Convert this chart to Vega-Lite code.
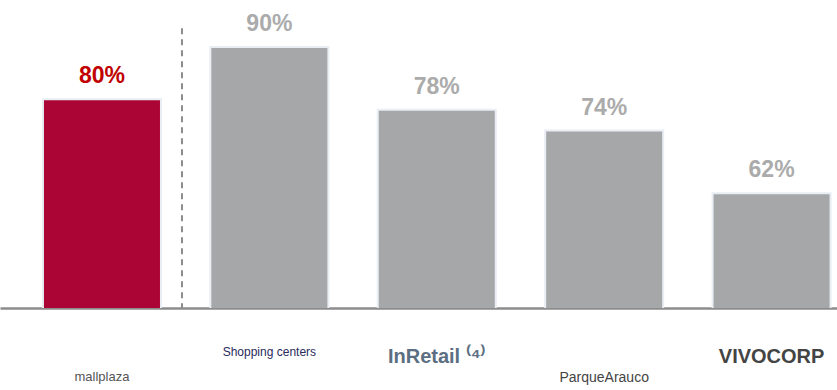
{
  "$schema": "https://vega.github.io/schema/vega-lite/v6.json",
  "width": 837,
  "height": 308,
  "autosize": {"type": "none"},
  "padding": {"left": 0, "top": 0, "right": 0, "bottom": 82},
  "background": "white",
  "config": {"view": {"stroke": null}, "font": "Liberation Sans"},
  "data": {
    "values": [
      {"empresa": "mallplaza", "ocupacion": 80},
      {"empresa": "Shopping centers", "ocupacion": 90},
      {"empresa": "InRetail", "ocupacion": 78},
      {"empresa": "ParqueArauco", "ocupacion": 74},
      {"empresa": "VIVOCORP", "ocupacion": 62}
    ]
  },
  "encoding": {
    "x": {
      "field": "empresa",
      "type": "nominal",
      "sort": null,
      "scale": {"paddingInner": 0.295, "paddingOuter": 0.1475, "align": 0.87},
      "axis": {
        "title": null,
        "ticks": false,
        "labelAngle": 0,
        "domainColor": "#8c8c8c",
        "domainWidth": 2.5,
        "labelBaseline": "top",
        "labelLineHeight": 24,
        "labelFont": "Liberation Sans",
        "labelExpr": "datum.value == 'InRetail' ? 'InRetail ⁽⁴⁾' : (datum.value == 'mallplaza' || datum.value == 'ParqueArauco') ? ['', datum.value] : datum.value",
        "labelColor": {
          "condition": [
            {"test": "datum.value == 'mallplaza'", "value": "#555555"},
            {"test": "datum.value == 'Shopping centers'", "value": "#2b2a5c"},
            {"test": "datum.value == 'InRetail'", "value": "#5c6f82"}
          ],
          "value": "#444444"
        },
        "labelFontSize": {
          "condition": [
            {"test": "datum.value == 'mallplaza'", "value": 13},
            {"test": "datum.value == 'Shopping centers'", "value": 12},
            {"test": "datum.value == 'ParqueArauco'", "value": 14}
          ],
          "value": 20
        },
        "labelFontWeight": {
          "condition": [
            {"test": "datum.value == 'InRetail' || datum.value == 'VIVOCORP'", "value": "bold"}
          ],
          "value": "normal"
        },
        "labelPadding": 38
      }
    }
  },
  "layer": [
    {
      "mark": {"type": "bar", "stroke": "#e8eef3", "strokeWidth": 2, "clip": true},
      "encoding": {
        "y": {
          "field": "ocupacion",
          "type": "quantitative",
          "scale": {"domain": [40, 99], "nice": false, "zero": false},
          "axis": null
        },
        "color": {
          "condition": {"test": "datum.empresa == 'mallplaza'", "value": "#ab0535"},
          "value": "#a6a7a9"
        }
      }
    },
    {
      "transform": [{"calculate": "datum.ocupacion + '%'", "as": "etiqueta"}],
      "mark": {"type": "text", "baseline": "alphabetic", "dy": -16, "fontSize": 23, "fontWeight": "bold", "font": "Liberation Sans"},
      "encoding": {
        "y": {"field": "ocupacion", "type": "quantitative"},
        "text": {"field": "etiqueta", "type": "nominal"},
        "color": {
          "condition": {"test": "datum.empresa == 'mallplaza'", "value": "#c00000"},
          "value": "#ababab"
        }
      }
    },
    {
      "transform": [{"filter": "datum.empresa == 'mallplaza'"}],
      "mark": {"type": "rule", "strokeDash": [6, 5], "strokeWidth": 2, "color": "#8c8c8c", "xOffset": 21},
      "encoding": {
        "x": {"field": "empresa", "type": "nominal", "bandPosition": 1},
        "y": {"datum": 93.6},
        "y2": {"datum": 40}
      }
    }
  ]
}
